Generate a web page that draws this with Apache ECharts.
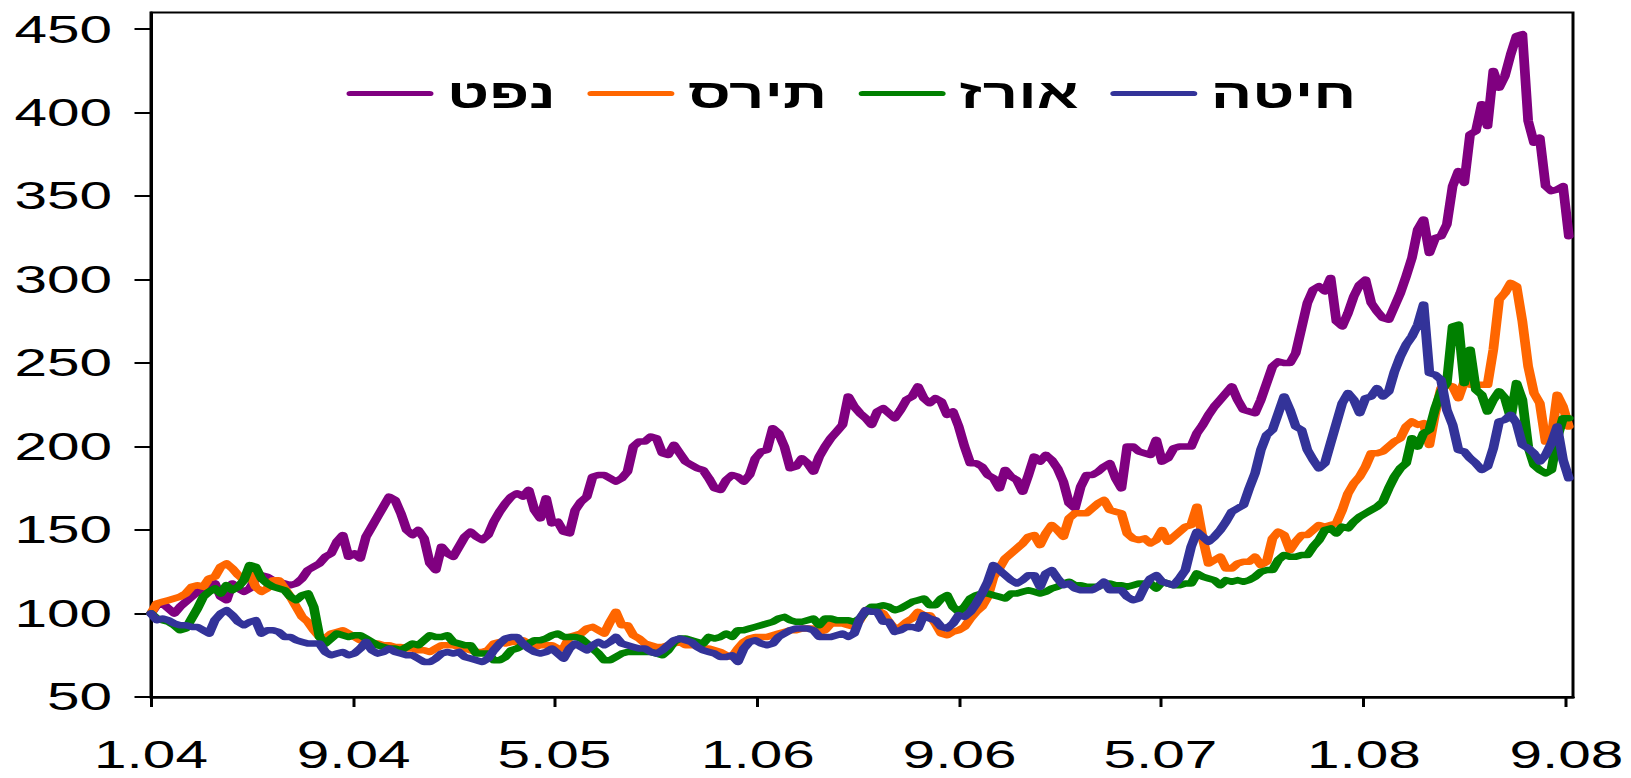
<!DOCTYPE html>
<html>
<head>
<meta charset="utf-8">
<script src="https://cdn.jsdelivr.net/npm/echarts@6/dist/echarts.min.js"></script>
<style>
  html, body { margin: 0; padding: 0; background: #fff; overflow: hidden; width: 1631px; height: 778px; }
  #chart { height: 778px; transform-origin: 0 0; }
</style>
</head>
<body>
<div id="chart"></div>
<script>
// ---- Data (weekly, starting 1 Jan 2004; index 100 = start) ----
const SERIES_NAMES = ['נפט', 'תירס', 'אורז', 'חיטה'];
const SERIES_COLORS = ['#800080', '#FF6600', '#008000', '#333399'];

const OIL = [
100,105,106,103,100,104,107,110,113,115,116,118,110,108,118,115,113,115,121,123,122,120,119,118,117,118,121,126,128,130,134,136,143,147,134,136,133,146,152,158,164,170,
168,160,150,147,150,145,130,126,140,136,134,140,146,149,146,144,147,155,161,166,170,172,170,174,162,157,169,154,155,149,148,162,167,170,182,183,183,181,179,181,185,200,
203,203,206,205,196,195,201,196,191,189,187,186,181,175,174,180,183,182,179,183,193,197,198,211,208,200,187,188,193,190,185,194,200,205,209,213,230,224,220,217,213,221,223,
220,217,222,228,230,236,229,226,229,227,219,221,212,200,190,190,188,183,181,175,186,182,180,173,183,194,191,195,192,187,179,166,163,176,183,183,185,188,190,181,175,200,
200,197,196,195,204,191,193,199,200,200,200,208,213,219,224,228,232,236,228,222,221,220,228,238,248,251,250,250,256,271,286,294,296,293,301,275,272,280,290,297,300,286,
281,277,276,284,292,302,313,330,336,316,325,326,333,356,365,358,387,389,405,392,425,415,422,435,446,447,395,382,385,356,353,354,356,326
];

const CORN = [
100,106,107,108,109,110,112,116,117,116,121,122,128,130,127,123,120,124,116,113,115,120,120,115,110,104,98,95,90,86,85,88,89,90,88,86,84,83,82,82,81,81,
80,80,79,79,78,78,77,79,81,81,81,80,79,78,77,77,78,82,83,82,83,83,84,82,80,81,81,81,79,79,86,87,88,91,92,90,88,95,101,93,93,87,85,
82,81,80,80,81,82,83,81,81,81,79,79,78,77,75,74,79,83,85,86,86,86,87,88,89,90,90,91,91,91,89,90,94,94,94,93,92,96,102,103,102,100,
95,91,92,95,97,101,99,99,94,88,87,89,90,92,97,101,104,110,122,127,133,136,139,142,146,147,141,148,153,150,146,157,160,160,160,163,166,168,162,161,160,148,
145,144,145,142,144,150,143,146,149,152,153,164,145,130,132,134,127,127,130,131,131,134,129,131,145,149,147,138,143,147,147,150,153,152,153,154,162,172,178,182,188,196,
196,197,200,203,205,212,215,213,214,201,220,235,237,236,229,239,237,237,237,237,258,288,292,298,296,275,248,232,226,203,205,231,224,212
];

const RICE = [
100,97,96,95,93,90,91,97,103,110,113,115,112,117,114,116,120,129,128,121,118,116,115,114,110,108,111,112,104,86,82,85,88,87,86,87,87,85,83,81,80,79,
79,78,80,82,81,84,87,86,86,87,83,82,81,81,76,76,76,72,72,74,78,79,81,82,84,84,85,87,88,86,86,86,85,82,79,76,72,72,74,76,77,77,77,
77,77,76,75,78,83,85,85,84,83,82,86,85,86,88,86,90,90,91,92,93,94,95,97,98,96,95,95,96,97,93,97,97,96,96,96,95,97,101,104,104,105,
104,102,103,105,107,108,109,105,105,109,111,104,101,104,109,111,112,112,111,110,109,112,112,113,114,113,112,113,115,116,118,119,117,117,116,116,116,118,118,117,117,116,
117,118,118,118,115,119,118,117,117,118,118,124,122,121,120,117,120,119,120,119,120,122,125,126,126,132,135,134,134,135,135,140,144,150,151,148,152,151,155,158,160,162,
164,167,175,182,187,190,205,200,208,210,223,233,238,272,273,238,258,234,231,221,228,233,229,217,238,228,200,189,186,184,186,205,217,217
];

const WHEAT = [
100,96,97,96,94,93,93,92,92,90,88,96,100,102,99,95,93,95,96,88,90,90,89,86,86,84,83,82,82,82,77,75,76,77,75,76,79,83,78,76,77,79,
77,76,75,75,73,71,71,73,76,77,76,77,74,73,72,71,73,78,82,85,86,86,82,79,77,76,77,79,76,73,79,82,80,78,81,83,81,83,86,82,81,80,79,
79,77,76,78,81,84,85,84,83,80,78,77,76,74,74,75,71,79,83,84,82,81,82,86,88,90,91,91,91,90,86,86,86,87,88,86,88,97,102,101,101,95,
95,89,90,92,92,91,99,97,96,92,91,94,99,98,101,106,112,119,129,126,123,120,118,120,123,123,116,124,126,121,117,118,115,114,114,114,116,119,114,114,114,110,
108,109,116,121,123,119,118,117,121,126,140,149,146,143,146,150,155,161,163,165,175,184,198,207,210,220,230,222,212,210,198,192,187,190,202,214,226,232,228,220,229,230,
235,230,233,245,254,261,266,273,285,244,243,240,222,213,198,197,193,190,186,188,199,215,216,219,214,201,199,196,191,195,202,212,192,181
];

// Tick labels
const Y_TICKS = [50, 100, 150, 200, 250, 300, 350, 400, 450];
const X_TICK_MONTHS = [[2004, 0], [2004, 8], [2005, 4], [2006, 0], [2006, 8], [2007, 4], [2008, 0], [2008, 8]];
const X_TICK_LABELS = ['1.04', '9.04', '5.05', '1.06', '9.06', '5.07', '1.08', '9.08'];

// ---- Build ----
const DAY_MS = 86400000;
const START = Date.UTC(2004, 0, 1);
const WEEK_DAYS = 7;
const X_TICK_DAYS = X_TICK_MONTHS.map(([y, m]) => Math.round((Date.UTC(y, m, 1) - START) / DAY_MS));
const DAYS = OIL.map((_, i) => i * WEEK_DAYS);
const VALUES = [OIL, CORN, RICE, WHEAT];

const STRETCH = 1.5;                 // reference glyphs/lines are horizontally stretched
const W0 = 1631 / STRETCH;
const dom = document.getElementById('chart');
dom.style.width = W0 + 'px';
dom.style.transform = 'scaleX(' + STRETCH + ')';

const FONT = "'Liberation Sans', Arial, 'DejaVu Sans', sans-serif";

const chart = echarts.init(dom, null, { renderer: 'svg', width: W0, height: 778 });

chart.setOption({
  animation: false,
  backgroundColor: '#fff',
  grid: {
    left: 151 / STRETCH, right: W0 - 1573 / STRETCH, top: 12.5, bottom: 81,
    show: true, borderColor: '#000', borderWidth: 2, backgroundColor: 'transparent'
  },
  legend: {
    data: SERIES_NAMES,
    left: 226, top: 68,
    itemWidth: 58, itemHeight: 9, itemGap: 21,
    icon: 'path://M4.5,0 L95.5,0 A4.5,4.5 0 0 1 95.5,9 L4.5,9 A4.5,4.5 0 0 1 4.5,0 Z',
    textStyle: { fontSize: 41, fontWeight: 'bold', color: '#000', fontFamily: FONT, padding: [0, 0, 0, 4] }
  },
  xAxis: {
    type: 'value', min: 0, max: 1713,
    axisLine: { show: true, lineStyle: { color: '#000', width: 2.5 } },
    axisTick: { show: true, inside: false, length: 10, customValues: X_TICK_DAYS, lineStyle: { color: '#000', width: 2 } },
    axisLabel: {
      customValues: X_TICK_DAYS, margin: 38, color: '#000', fontSize: 39, fontFamily: FONT,
      formatter: v => { const i = X_TICK_DAYS.indexOf(Math.round(v)); return i >= 0 ? X_TICK_LABELS[i] : ''; }
    },
    splitLine: { show: false }
  },
  yAxis: {
    type: 'value', min: 50, max: 460,
    axisLine: { show: true, lineStyle: { color: '#000', width: 2 } },
    axisTick: { show: true, inside: false, length: 11, customValues: Y_TICKS, lineStyle: { color: '#000', width: 2 } },
    axisLabel: { customValues: Y_TICKS, margin: 26, color: '#000', fontSize: 39, fontFamily: FONT },
    splitLine: { show: false }
  },
  series: SERIES_NAMES.map((name, k) => ({
    name, type: 'line', symbol: 'none', showSymbol: false,
    data: DAYS.map((d, i) => [d, VALUES[k][i]]),
    itemStyle: { color: SERIES_COLORS[k] },
    lineStyle: { color: SERIES_COLORS[k], width: 6.5, cap: 'round', join: 'round' }
  }))
});
</script>
</body>
</html>
